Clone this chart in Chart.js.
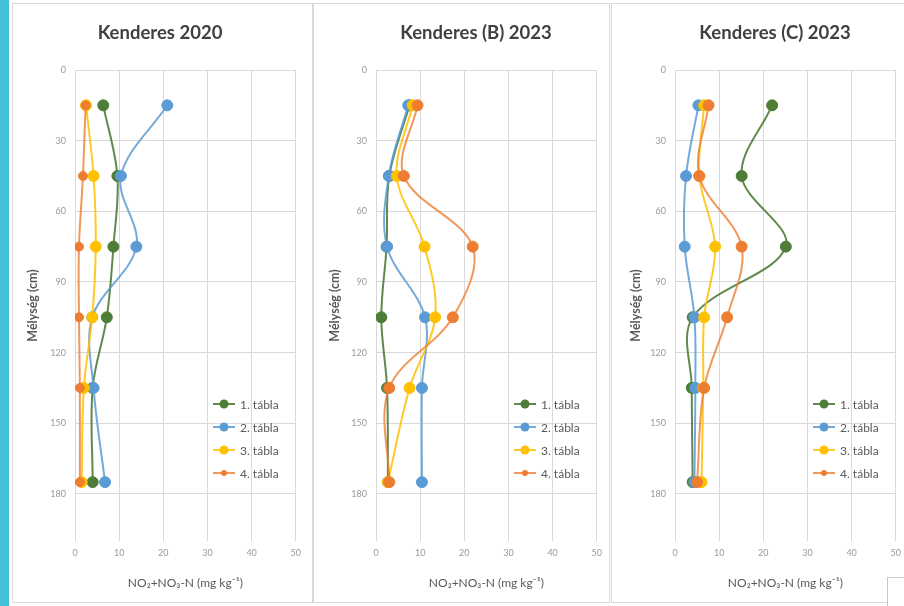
<!DOCTYPE html>
<html>
<head>
<meta charset="utf-8">
<script src="https://cdn.jsdelivr.net/npm/chart.js@4/dist/chart.umd.min.js"></script>
<style>
  html, body { margin: 0; padding: 0; background: #fff; width: 904px; height: 606px; overflow: hidden; }
  #stripe { position: absolute; left: 0; top: 0; width: 9px; height: 606px; background: #42bfd9; }
  .panel { position: absolute; top: 3px; height: 600px; border: 1px solid #d9d9d9; box-sizing: border-box; background: #fff; }
  canvas { position: absolute; top: 0; }
  #corner { position: absolute; left: 887px; top: 577px; width: 30px; height: 40px; border: 1px solid #c8c8c8; background: #fff; }
</style>
</head>
<body>
<div id="stripe"></div>
<div class="panel" style="left:12px;width:301px"></div>
<div class="panel" style="left:313px;width:297px"></div>
<div class="panel" style="left:611px;width:300px"></div>
<canvas id="c2020" width="296" height="606" style="left:12px"></canvas>
<canvas id="cB2023" width="296" height="606" style="left:313px"></canvas>
<canvas id="cC2023" width="296" height="606" style="left:612px"></canvas>
<div id="corner"></div>
<script>
// Sampling depths (cm) and axis tick values
const depths = [15, 45, 75, 105, 135, 175];
const depthTicks = [0, 30, 60, 90, 120, 150, 180];
const valueTicks = [0, 10, 20, 30, 40, 50];
const seriesNames = ['1. tábla', '2. tábla', '3. tábla', '4. tábla'];

// NO2+NO3-N (mg/kg) per field, Kenderes 2020
const k2020T1 = [6.4, 9.6, 8.7, 7.2, 4.0, 4.0];
const k2020T2 = [20.9, 10.4, 13.9, 3.9, 4.2, 6.8];
const k2020T3 = [2.5, 4.2, 4.7, 3.9, 2.0, 1.5];
const k2020T4 = [2.4, 1.8, 0.9, 0.9, 1.1, 1.1];

// Kenderes (B) 2023
const kB2023T1 = [7.6, 3.0, 2.4, 1.2, 2.5, 2.7];
const kB2023T2 = [7.3, 2.9, 2.5, 11.1, 10.4, 10.4];
const kB2023T3 = [8.3, 4.7, 11.0, 13.4, 7.6, 2.7];
const kB2023T4 = [9.4, 6.3, 21.9, 17.4, 3.0, 3.0];

// Kenderes (C) 2023
const kC2023T1 = [22.0, 15.1, 25.1, 4.0, 3.8, 4.0];
const kC2023T2 = [5.3, 2.5, 2.2, 4.4, 4.6, 4.4];
const kC2023T3 = [6.6, 5.5, 9.1, 6.6, 6.4, 6.0];
const kC2023T4 = [7.6, 5.5, 15.1, 11.8, 6.6, 5.0];

const markerColors = ['#4e7d38', '#5b9bd5', '#ffc000', '#ed7d31'];
const lineColors = ['rgba(78,125,56,0.9)', 'rgba(91,155,213,0.85)', 'rgba(255,192,0,0.85)', 'rgba(237,125,49,0.8)'];

// Legend drawn inside the plot area, lower right
const insideLegend = {
  id: 'insideLegend',
  afterDraw(chart, args, opts) {
    const ctx = chart.ctx;
    const a = chart.chartArea;
    chart.data.datasets.forEach((ds, i) => {
      const y = opts.top + i * opts.gap;
      const x0 = a.left + opts.left;
      ctx.save();
      ctx.strokeStyle = ds.borderColor;
      ctx.lineWidth = 2;
      ctx.beginPath();
      ctx.moveTo(x0, y);
      ctx.lineTo(x0 + 22, y);
      ctx.stroke();
      ctx.fillStyle = ds.pointBackgroundColor;
      ctx.beginPath();
      ctx.arc(x0 + 11, y, i === 3 ? 3 : 4.5, 0, Math.PI * 2);
      ctx.fill();
      ctx.fillStyle = '#595959';
      ctx.font = '12px Lato';
      ctx.textBaseline = 'middle';
      ctx.fillText(ds.label, x0 + 27, y + 1);
      ctx.restore();
    });
  }
};

// Places the chart title at a fixed horizontal centre
const titleCentre = {
  id: 'titleCentre',
  afterLayout(chart, args, opts) {
    const t = chart.titleBlock;
    if (!t) return;
    const half = (t.right - t.left) / 2;
    t.left = opts.x - half;
    t.right = opts.x + half;
  }
};

function makeChart(id, title, titleX, yTitlePad, series, smallLast) {
  new Chart(document.getElementById(id), {
    type: 'scatter',
    data: {
      datasets: series.map((vals, i) => ({
        label: seriesNames[i],
        data: vals.map((v, k) => ({ x: v, y: depths[k] })),
        showLine: true,
        tension: 0.35,
        borderColor: lineColors[i],
        borderWidth: 2,
        pointBackgroundColor: markerColors[i],
        pointBorderColor: markerColors[i],
        pointBorderWidth: 1,
        pointRadius: (smallLast && i === 3) ? 4.5 : 5.5,
        order: 3 - i
      }))
    },
    options: {
      responsive: false,
      animation: false,
      layout: { padding: { left: 0, right: 8, top: 0, bottom: 0 } },
      plugins: {
        legend: { display: false },
        tooltip: { enabled: false },
        title: {
          display: true,
          text: title,
          color: '#404040',
          font: { family: 'Lato', size: 18.5, weight: 'bold' },
          padding: { top: 21.9, bottom: 25.9 }
        },
        titleCentre: { x: titleX },
        insideLegend: { top: 404, gap: 23, left: 138 }
      },
      scales: {
        x: {
          type: 'linear',
          min: 0, max: 50,
          afterBuildTicks: s => { s.ticks = valueTicks.map(v => ({ value: v })); },
          afterFit: s => { s.height = 65; },
          grid: { color: '#d9d9d9', drawTicks: false },
          border: { display: false },
          ticks: { color: '#9a9a9a', font: { family: 'Lato', size: 9 }, padding: 7, maxRotation: 0 },
          title: {
            display: true,
            text: 'NO₂+NO₃-N (mg kg⁻¹)',
            color: '#595959',
            font: { family: 'Lato', size: 12 },
            padding: { top: 0, bottom: 15.8 }
          }
        },
        y: {
          type: 'linear',
          reverse: true,
          min: 0, max: 200,
          afterBuildTicks: s => { s.ticks = depthTicks.map(v => ({ value: v })); },
          afterFit: s => { s.width = 63; },
          grid: { color: '#d9d9d9', drawTicks: false },
          border: { display: false },
          ticks: { color: '#9a9a9a', font: { family: 'Lato', size: 9 }, padding: 9 },
          title: {
            display: true,
            text: 'Mélység (cm)',
            color: '#595959',
            font: { family: 'Lato', size: 12.5, weight: 'bold' },
            padding: { top: yTitlePad, bottom: 0 }
          }
        }
      }
    },
    plugins: [insideLegend, titleCentre]
  });
}

makeChart('c2020', 'Kenderes 2020', 148, 13, [k2020T1, k2020T2, k2020T3, k2020T4], true);
makeChart('cB2023', 'Kenderes (B) 2023', 163, 14, [kB2023T1, kB2023T2, kB2023T3, kB2023T4], false);
makeChart('cC2023', 'Kenderes (C) 2023', 163, 16, [kC2023T1, kC2023T2, kC2023T3, kC2023T4], false);
</script>
</body>
</html>
